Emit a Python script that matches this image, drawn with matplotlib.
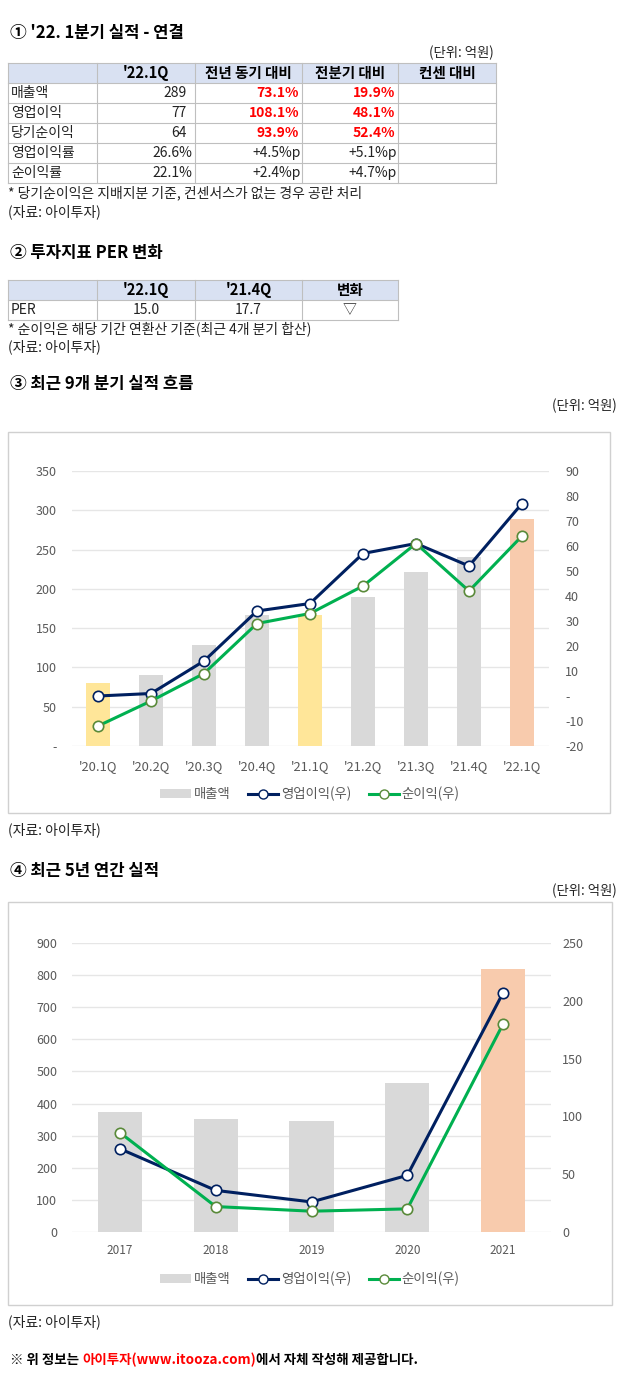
import numpy as np
import matplotlib.pyplot as plt
from matplotlib.patches import Rectangle, Patch
from matplotlib.lines import Line2D

plt.rcParams['font.family'] = ['Noto Sans CJK KR', 'DejaVu Sans']

W, H = 629, 1392

# ① 1분기 실적 표
t1_header = ["", "'22.1Q", "전년 동기 대비", "전분기 대비", "컨센 대비"]
t1_items = ["매출액", "영업이익", "당기순이익", "영업이익률", "순이익률"]
t1_value = ["289", "77", "64", "26.6%", "22.1%"]
t1_yoy = ["73.1%", "108.1%", "93.9%", "+4.5%p", "+2.4%p"]
t1_qoq = ["19.9%", "48.1%", "52.4%", "+5.1%p", "+4.7%p"]
t1_cons = ["", "", "", "", ""]

# ② PER 표
t2_header = ["", "'22.1Q", "'21.4Q", "변화"]
t2_row = ["PER", "15.0", "17.7", "▽"]

# ③ 최근 9개 분기
quarters = ["'20.1Q", "'20.2Q", "'20.3Q", "'20.4Q", "'21.1Q",
            "'21.2Q", "'21.3Q", "'21.4Q", "'22.1Q"]
q_sales = [80, 90, 128, 167, 167, 190, 221, 241, 289]
q_op = [0, 1, 14, 34, 37, 57, 61, 52, 77]
q_net = [-12, -2, 9, 29, 33, 44, 61, 42, 64]

# ④ 최근 5년
years = ["2017", "2018", "2019", "2020", "2021"]
y_sales = [373, 352, 347, 465, 819]
y_op = [72, 36, 26, 49, 207]
y_net = [86, 22, 18, 20, 180]

GRAY_BAR = '#D9D9D9'
YELLOW = '#FFE699'
PEACH = '#F8CBAD'
NAVY = '#002060'
GREEN = '#00B050'
TICK = '#595959'
LINE = '#BFBFBF'
HEAD = '#D9E1F2'

fig = plt.figure(figsize=(W / 100, H / 100), dpi=100)
bg = fig.add_axes([0, 0, 1, 1])
bg.set_xlim(0, W)
bg.set_ylim(H, 0)
bg.axis('off')


def txt(x, y, s, **kw):
    kw.setdefault('fontsize', 10)
    kw.setdefault('va', 'center')
    kw.setdefault('color', '#222222')
    return bg.text(x, y, s, **kw)


def title(y, s):
    txt(10, y, s, fontsize=12, fontweight='bold', color='black')


def draw_grid(cols, top, row_h, n_rows):
    bottom = top + row_h * n_rows
    bg.add_patch(Rectangle((cols[0], top), cols[-1] - cols[0], row_h,
                           facecolor=HEAD, edgecolor='none'))
    for i in range(n_rows + 1):
        bg.plot([cols[0], cols[-1]], [top + i * row_h] * 2, color=LINE, lw=0.8)
    for c in cols:
        bg.plot([c, c], [top, bottom], color=LINE, lw=0.8)


# ---------- ① ----------
title(33, "① '22. 1분기 실적 - 연결")
txt(494, 53, "(단위: 억원)", ha='right', fontsize=9.6)
cols1 = [8, 97, 195, 302, 398, 496]
top1, rh = 63, 20
draw_grid(cols1, top1, rh, 6)
for j, h in enumerate(t1_header):
    txt((cols1[j] + cols1[j + 1]) / 2, top1 + rh / 2, h, ha='center',
        fontweight='bold', color='black', fontsize=10.5)
for i, item in enumerate(t1_items):
    yc = top1 + rh * (i + 1.5)
    txt(cols1[0] + 3, yc, item, ha='left', fontsize=10)
    for j, col in enumerate([t1_value, t1_yoy, t1_qoq, t1_cons]):
        s = col[i]
        red = j in (1, 2) and not s.endswith('p')
        pad = 1 if s.endswith('p') else (3 if s.endswith('%') else 8)
        txt(cols1[j + 2] - pad, yc, s, ha='right', fontsize=10,
            color='#FF0000' if red else '#222222',
            fontweight='bold' if red else 'normal')
txt(8, 193, "* 당기순이익은 지배지분 기준, 컨센서스가 없는 경우 공란 처리")
txt(8, 212, "(자료: 아이투자)")

# ---------- ② ----------
title(253, "② 투자지표 PER 변화")
cols2 = [8, 97, 195, 302, 398]
top2 = 280
draw_grid(cols2, top2, rh, 2)
for j, h in enumerate(t2_header):
    txt((cols2[j] + cols2[j + 1]) / 2, top2 + rh / 2, h, ha='center',
        fontweight='bold', color='black', fontsize=10.5)
for j, s in enumerate(t2_row):
    if j == 0:
        txt(cols2[0] + 3, top2 + rh * 1.5, s, ha='left')
    else:
        txt((cols2[j] + cols2[j + 1]) / 2, top2 + rh * 1.5, s, ha='center')
txt(8, 329, "* 순이익은 해당 기간 연환산 기준(최근 4개 분기 합산)")
txt(8, 347, "(자료: 아이투자)")


def px_axes(left, top, right, bottom):
    return fig.add_axes([left / W, 1 - bottom / H, (right - left) / W, (bottom - top) / H])


def style(ax):
    for s in ax.spines.values():
        s.set_visible(False)
    ax.tick_params(axis='both', length=0, labelcolor=TICK, labelsize=9)
    ax.patch.set_alpha(0)


def legend(ax, y):
    handles = [Patch(facecolor=GRAY_BAR, edgecolor='none'),
               Line2D([], [], color=NAVY, lw=2.2, marker='o', ms=6.5, mfc='white', mec=NAVY),
               Line2D([], [], color=GREEN, lw=2.2, marker='o', ms=6.5, mfc='white', mec='#5A8A3A')]
    leg = ax.legend(handles, ["매출액", "영업이익(우)", "순이익(우)"], loc='center',
                    bbox_to_anchor=(310 / W, 1 - y / H), bbox_transform=fig.transFigure,
                    ncol=3, frameon=False, fontsize=9.6, handlelength=2.3,
                    handleheight=0.6, columnspacing=1.3, handletextpad=0.2)
    for t in leg.get_texts():
        t.set_color(TICK)


# ---------- ③ ----------
title(384, "③ 최근 9개 분기 실적 흐름")
txt(617, 406, "(단위: 억원)", ha='right', fontsize=9.6)
bg.add_patch(Rectangle((8, 432), 602, 381, fill=False, edgecolor='#D0D0D0', lw=1))

q_colors = [GRAY_BAR] * len(quarters)
q_colors[0] = q_colors[4] = YELLOW
q_colors[-1] = PEACH

ax = px_axes(71.5, 471, 548.5, 746)
x = np.arange(len(quarters))
ax.bar(x, q_sales, width=0.45, color=q_colors, zorder=2)
ax.set_xlim(-0.5, len(quarters) - 0.5)
ax.set_ylim(0, 350)
lt = list(range(0, 351, 50))
ax.set_yticks(lt)
ax.set_yticklabels(['-' if v == 0 else str(v) for v in lt])
ax.set_xticks(x)
ax.set_xticklabels(quarters)
ax.grid(axis='y', color='#E6E6E6', lw=1)
ax.set_axisbelow(True)
style(ax)
ax.tick_params(axis='y', pad=10.5)
ax.tick_params(axis='x', pad=10, labelsize=9.3)

ax2 = ax.twinx()
ax2.set_ylim(-20, 90)
rt = list(range(-20, 91, 10))
ax2.set_yticks(rt)
ax2.set_yticklabels(['-' if v == 0 else str(v) for v in rt])
ax2.plot(x, q_op, color=NAVY, lw=2.2, marker='o', ms=7.5, mfc='white', mec=NAVY, mew=1.2, zorder=3)
ax2.plot(x, q_net, color=GREEN, lw=2.2, marker='o', ms=7.5, mfc='white', mec='#5A8A3A', mew=1.2, zorder=3)
style(ax2)
ax2.tick_params(axis='y', pad=12)
legend(ax, 794)
txt(8, 830, "(자료: 아이투자)")

# ---------- ④ ----------
title(871, "④ 최근 5년 연간 실적")
txt(617, 891, "(단위: 억원)", ha='right', fontsize=9.6)
bg.add_patch(Rectangle((8, 902), 604, 403, fill=False, edgecolor='#D0D0D0', lw=1))

y_colors = [GRAY_BAR] * len(years)
y_colors[-1] = PEACH

ax = px_axes(72, 943, 551, 1232)
x = np.arange(len(years))
ax.bar(x, y_sales, width=0.46, color=y_colors, zorder=2)
ax.set_xlim(-0.5, len(years) - 0.5)
ax.set_ylim(0, 900)
ax.set_yticks(range(0, 901, 100))
ax.set_xticks(x)
ax.set_xticklabels(years)
ax.grid(axis='y', color='#E6E6E6', lw=1)
ax.set_axisbelow(True)
style(ax)
ax.tick_params(axis='y', pad=10.5)
ax.tick_params(axis='x', pad=9, labelsize=8.5)

ax2 = ax.twinx()
ax2.set_ylim(0, 250)
ax2.set_yticks(range(0, 251, 50))
ax2.plot(x, y_op, color=NAVY, lw=2.2, marker='o', ms=7.5, mfc='white', mec=NAVY, mew=1.2, zorder=3)
ax2.plot(x, y_net, color=GREEN, lw=2.2, marker='o', ms=7.5, mfc='white', mec='#5A8A3A', mew=1.2, zorder=3)
style(ax2)
ax2.tick_params(axis='y', pad=8)
legend(ax, 1279)
txt(8, 1322, "(자료: 아이투자)")

# 하단 안내문
fig.canvas.draw()
r = fig.canvas.get_renderer()
xx = 10
for s, c in [("※ 위 정보는 ", 'black'), ("아이투자(www.itooza.com)", '#FF0000'),
             ("에서 자체 작성해 제공합니다.", 'black')]:
    t = txt(xx, 1360, s, fontweight='bold', color=c, fontsize=9.7)
    xx += t.get_window_extent(r).width

fig.savefig('out.png', dpi=100)
